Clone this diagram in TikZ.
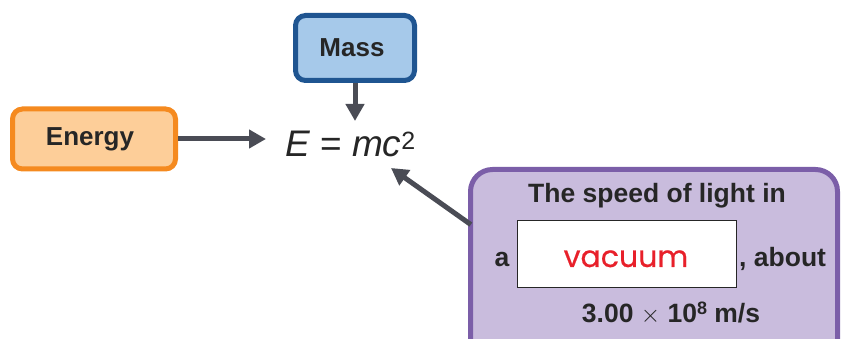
\documentclass[tikz,border=0pt]{standalone}
\usepackage{fontspec}
\setmainfont{Liberation Sans}
\newfontfamily\roundfont[FakeBold=0.6]{Poppins}
\usetikzlibrary{arrows.meta}
\definecolor{arrowgray}{HTML}{4A4C55}
\definecolor{orangefill}{HTML}{FDCE99}
\definecolor{orangeline}{HTML}{F58A1F}
\definecolor{bluefill}{HTML}{A6C9EA}
\definecolor{blueline}{HTML}{1F5591}
\definecolor{purplefill}{HTML}{C9BCDD}
\definecolor{purpleline}{HTML}{7B5EA8}
\definecolor{vacred}{HTML}{E8202A}
\tikzset{
  conceptbox/.style={rectangle, rounded corners=10pt, line width=5pt, inner sep=0pt,
    font=\fontsize{26}{29}\selectfont\bfseries, text=black!85},
  conn/.style={draw=arrowgray, line width=5pt, -{Triangle[length=17pt,width=18pt]}},
  boxtext/.style={inner sep=0pt, anchor=base, font=\fontsize{26.5}{29}\selectfont\bfseries, text=black!85},
}
\begin{document}
\begin{tikzpicture}[x=1pt,y=-1pt]
\useasboundingbox (0,0) rectangle (841,339);
\clip (0,0) rectangle (841,339);
% boxes
\node[conceptbox, draw=orangeline, fill=orangefill, minimum width=163pt, minimum height=60pt] (energy) at (94,139) {\hspace*{-8pt}Energy};
\node[conceptbox, draw=blueline, fill=bluefill, minimum width=119pt, minimum height=65pt] (mass) at (355,48) {\hspace*{-6pt}Mass};
\node[rectangle, rounded corners=22pt, line width=5pt, draw=purpleline, fill=purplefill,
      minimum width=367pt, minimum height=210pt] (purple) at (654,274.5) {};
% equation
\node[inner sep=0pt, anchor=base west, font=\fontsize{37}{40}\selectfont\itshape, text=black!85] (eq) at (285,157)
  {E {\upshape =} mc\raisebox{7pt}{\fontsize{25}{28}\selectfont\upshape 2}};
% purple box contents
\node[boxtext] (line1) at (657,203) {The speed of light in};
\node[rectangle, draw=black!85, line width=1.6pt, fill=white, minimum width=219pt, minimum height=67pt, inner sep=0pt] (wbox) at (627,254) {};
\node[inner sep=0pt, anchor=base, font=\roundfont\fontsize{30}{32}\selectfont, text=vacred] (vac) at (626,267) {vacuum};
\node[boxtext] (a) at (502,267) {a};
\node[boxtext, anchor=base west] (about) at (739,267) {, about};
\node[boxtext] (speed) at (671,323) {3.00 {\mdseries$\times$} 10\raisebox{9pt}{\fontsize{18}{19}\selectfont 8} m/s};
% connectors
\coordinate (etip) at (266,139);
\coordinate (mtip) at (355,121);
\coordinate (ptip) at (391,168);
\coordinate (pstart) at (470,224);
\draw[conn] (energy.east) -- (etip);
\draw[conn] (mass.south) -- (mtip);
\draw[conn, shorten <=-1pt] (pstart) -- (ptip);
\end{tikzpicture}
\end{document}
